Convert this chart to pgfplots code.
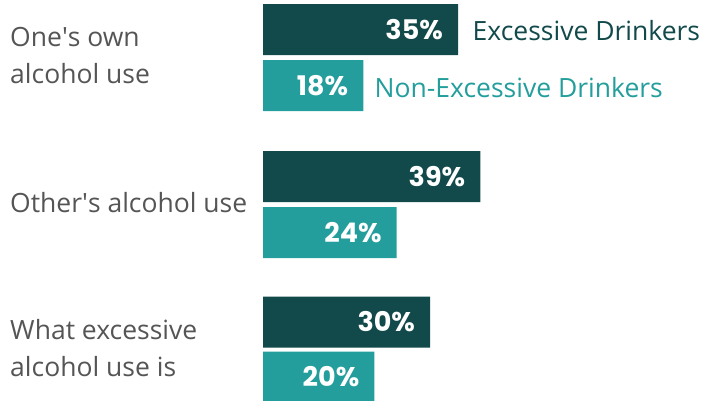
\documentclass[border=0pt]{standalone}
\usepackage{pgfplots}
\pgfplotsset{compat=1.18}
\usepackage{fontspec}
\setmainfont{Open Sans}
\newfontfamily\valfont{Poppins}
\definecolor{darkg}{HTML}{12494A}
\definecolor{lightg}{HTML}{249E9C}
\definecolor{labg}{HTML}{555555}
\begin{document}
\begin{tikzpicture}
\begin{axis}[name=ax,
  scale only axis, width=706pt, height=400pt,
  xmin=-47.2, xmax=79.5, ymin=0, ymax=400, y dir=reverse,
  hide axis, xbar, bar width=51, bar shift=0pt,
  nodes near coords={\pgfmathprintnumber[assume math mode=true]{\pgfplotspointmeta}\%},
  every node near coord/.append style={anchor=east, inner sep=0pt, xshift=-15pt, text=white, font=\valfont\bfseries\fontsize{27}{27}\selectfont},
  clip=true,
]
\addplot[fill=darkg, draw=none] coordinates {(35,29.5) (39,176.5) (30,322)};
\addplot[fill=lightg, draw=none] coordinates {(18,85.5) (24,232.5) (20,377)};
\begin{scope}[every node/.style={font=\fontsize{26.5}{37}\selectfont, text=labg, anchor=west, align=left, inner sep=0pt}]
\node at (axis cs:-45.4,56) {One\textquotesingle s own\\alcohol use};
\node at (axis cs:-45.4,203) {Other\textquotesingle s alcohol use};
\node at (axis cs:-45.4,348) {What excessive\\alcohol use is};
\end{scope}
\node[anchor=west, inner sep=0pt, text=darkg, font=\fontsize{26.5}{26.5}\selectfont] at (axis cs:37.6,31) {Excessive Drinkers};
\node[anchor=west, inner sep=0pt, text=lightg, font=\fontsize{26.5}{26.5}\selectfont] at (axis cs:20.0,88) {Non-Excessive Drinkers};
\end{axis}
\pgfresetboundingbox
\path[use as bounding box] (ax.south west) rectangle (ax.north east);
\end{tikzpicture}
\end{document}
